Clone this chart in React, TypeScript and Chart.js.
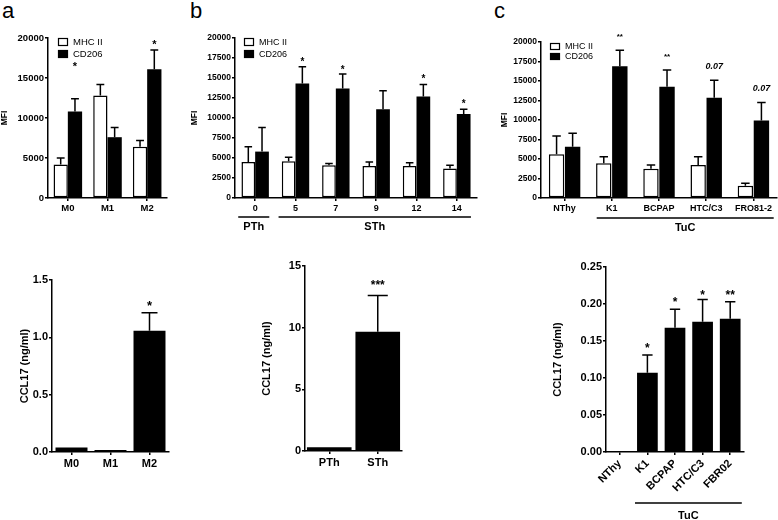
import React, { useEffect, useRef } from "react";
import { Chart, registerables } from "chart.js";
Chart.register(...registerables);

const FONT = "'Liberation Sans', Arial, Helvetica, sans-serif";
const SERIES = ["MHC II", "CD206"];

// ---------- a (top): MFI ----------
const aTopCats = ["M0", "M1", "M2"];
const aTopMHC = [4200, 12800, 6400];
const aTopMHCErr = [5000, 14200, 7200];
const aTopCD = [10800, 7600, 16100];
const aTopCDErr = [12400, 8800, 18500];
const aTopCDMarks = ["*", "", "*"];
const aTopCDMarkAt = [16800, 0, 19500];
const aTopTicks = ["0", "5000", "10000", "15000", "20000"];

// ---------- b (top): MFI ----------
const bTopCats = ["0", "5", "7", "9", "12", "14"];
const bTopMHC = [4500, 4600, 4100, 4000, 4000, 3700];
const bTopMHCErr = [6400, 5100, 4300, 4500, 4400, 4100];
const bTopCD = [5800, 14300, 13700, 11100, 12700, 10500];
const bTopCDErr = [8800, 16400, 15500, 13400, 14200, 11100];
const bTopCDMarks = ["", "*", "*", "", "*", "*"];
const bTopCDMarkAt = [0, 17400, 16400, 0, 15200, 12100];
const bTopTicks = ["0", "2500", "5000", "7500", "10000", "12500", "15000", "17500", "20000"];
const bTopGroups = ["PTh", "STh"];
const bTopGroupFirst = [0, 1];
const bTopGroupLast = [0, 5];

// ---------- c (top): MFI ----------
const cTopCats = ["NThy", "K1", "BCPAP", "HTC/C3", "FRO81-2"];
const cTopMHC = [5600, 4450, 3760, 4230, 1580];
const cTopMHCErr = [7950, 5300, 4230, 5300, 1880];
const cTopCD = [6580, 16900, 14270, 12860, 9920];
const cTopCDErr = [8300, 18950, 16400, 15100, 12250];
const cTopCDMarks = ["", "**", "**", "0.07", "0.07"];
const cTopCDMarkAt = [0, 21000, 18460, 16960, 14190];
const cTopTicks = ["0", "2500", "5000", "7500", "10000", "12500", "15000", "17500", "20000"];
const cTopGroups = ["TuC"];
const cTopGroupFirst = [1];
const cTopGroupLast = [4];

// ---------- a (bottom): CCL17 ----------
const aBotCats = ["M0", "M1", "M2"];
const aBotCCL = [0.04, 0.017, 1.058];
const aBotErr = [null, null, 1.215];
const aBotMarks = ["", "", "*"];
const aBotMarkAt = [0, 0, 1.3];
const aBotTicks = ["0.0", "0.5", "1.0", "1.5"];

// ---------- b (bottom): CCL17 ----------
const bBotCats = ["PTh", "STh"];
const bBotCCL = [0.3, 9.67];
const bBotErr = [null, 12.6];
const bBotMarks = ["", "***"];
const bBotMarkAt = [0, 13.65];
const bBotTicks = ["0", "5", "10", "15"];

// ---------- c (bottom): CCL17 ----------
const cBotCats = ["NThy", "K1", "BCPAP", "HTC/C3", "FBR02"];
const cBotCCL = [0, 0.107, 0.168, 0.176, 0.18];
const cBotErr = [null, 0.131, 0.193, 0.206, 0.203];
const cBotMarks = ["", "*", "*", "*", "**"];
const cBotMarkAt = [0, 0.1446, 0.2068, 0.216, 0.216];
const cBotTicks = ["0.00", "0.05", "0.10", "0.15", "0.20", "0.25"];
const cBotGroups = ["TuC"];
const cBotGroupFirst = [1];
const cBotGroupLast = [4];

type Box = { L: number; T: number; R: number; B: number };
type Pads = { l: number; t: number; r: number; b: number };
type LegendSpec = { dx: number; dy: number; row: number; w: number; h: number; size: number };
type GroupSpec = {
  labels: string[]; first: number[]; last: number[];
  from: number; to: number; lineOff: number; labelOff: number; size: number;
};
interface PanelSpec {
  box: Box; pads: Pads; cats: string[]; datasets: any[];
  yTicks: string[]; yTitle: string; yTitleSize: number; yTitlePad: number;
  yTickSize: number; xTickSize: number; xRotation: number;
  catPct: number; barPct: number; capFrac: number;
  starSize: number; numSize: number;
  legend?: LegendSpec; groups?: GroupSpec;
}

function annotPlugin(s: PanelSpec) {
  return {
    id: "annot",
    afterDatasetsDraw(chart: any) {
      const ctx = chart.ctx;
      const ys = chart.scales.y;
      const xs = chart.scales.x;
      const area = chart.chartArea;
      ctx.save();
      chart.data.datasets.forEach((ds: any, di: number) => {
        const meta = chart.getDatasetMeta(di);
        meta.data.forEach((el: any, i: number) => {
          const err = ds.errors ? ds.errors[i] : null;
          if (err != null) {
            const yE = ys.getPixelForValue(err);
            const cap = el.width * s.capFrac;
            ctx.strokeStyle = "#000";
            ctx.lineWidth = 1.5;
            ctx.beginPath();
            ctx.moveTo(el.x, el.y);
            ctx.lineTo(el.x, yE);
            ctx.moveTo(el.x - cap / 2, yE);
            ctx.lineTo(el.x + cap / 2, yE);
            ctx.stroke();
          }
          const m = ds.marks ? ds.marks[i] : "";
          if (m) {
            const yc = ys.getPixelForValue(ds.markAt[i]);
            const star = m.indexOf("*") >= 0;
            const size = star ? s.starSize : s.numSize;
            ctx.fillStyle = "#000";
            ctx.font = `${star ? "" : "italic "}bold ${size}px ${FONT}`;
            ctx.textAlign = "center";
            ctx.textBaseline = "alphabetic";
            ctx.fillText(m, el.x, yc + (star ? 0.57 : 0.36) * size);
          }
        });
      });
      if (s.legend) {
        const lg = s.legend;
        chart.data.datasets.forEach((ds: any, i: number) => {
          const bx = area.left + lg.dx;
          const by = area.top + lg.dy + i * lg.row;
          ctx.fillStyle = ds.backgroundColor;
          ctx.fillRect(bx, by, lg.w, lg.h);
          ctx.strokeStyle = "#000";
          ctx.lineWidth = 1.2;
          ctx.strokeRect(bx + 0.5, by + 0.5, lg.w - 1, lg.h - 1);
          ctx.fillStyle = "#000";
          ctx.font = `${lg.size}px ${FONT}`;
          ctx.textAlign = "left";
          ctx.textBaseline = "middle";
          ctx.fillText(ds.label, bx + lg.w + 5, by + lg.h / 2 + 0.5);
        });
      }
      if (s.groups) {
        const g = s.groups;
        const spacing = (xs.right - xs.left) / s.cats.length;
        g.labels.forEach((lab, gi) => {
          const x0 = xs.getPixelForValue(g.first[gi]) + g.from * spacing;
          const x1 = xs.getPixelForValue(g.last[gi]) + g.to * spacing;
          const yl = area.bottom + g.lineOff;
          ctx.strokeStyle = "#000";
          ctx.lineWidth = 1.5;
          ctx.beginPath();
          ctx.moveTo(x0, yl);
          ctx.lineTo(x1, yl);
          ctx.stroke();
          ctx.fillStyle = "#000";
          ctx.font = `bold ${g.size}px ${FONT}`;
          ctx.textAlign = "center";
          ctx.textBaseline = "middle";
          ctx.fillText(lab, (x0 + x1) / 2, area.bottom + g.labelOff);
        });
      }
      ctx.restore();
    },
  };
}

function makePanel(s: PanelSpec) {
  const left = s.box.L - s.pads.l;
  const top = s.box.T - s.pads.t;
  const width = s.box.R - s.box.L + s.pads.l + s.pads.r;
  const height = s.box.B - s.box.T + s.pads.t + s.pads.b;
  const tickVals = s.yTicks.map((t) => parseFloat(t));
  const axisCommon = {
    border: { display: true, color: "#000", width: 1.5 },
  };
  const config: any = {
    type: "bar",
    data: {
      labels: s.cats,
      datasets: s.datasets.map((d) => ({
        ...d,
        categoryPercentage: s.catPct,
        barPercentage: s.barPct,
        borderSkipped: false,
      })),
    },
    options: {
      responsive: false,
      maintainAspectRatio: false,
      animation: false,
      events: [],
      layout: { padding: { left: 0, top: s.pads.t, right: s.pads.r, bottom: 0 } },
      plugins: { legend: { display: false }, tooltip: { enabled: false }, title: { display: false } },
      scales: {
        x: {
          type: "category",
          offset: true,
          ...axisCommon,
          grid: { offset: false, drawOnChartArea: false, drawTicks: true, tickLength: 3, color: "#000", lineWidth: 1.5 },
          ticks: {
            color: "#000",
            font: { family: FONT, size: s.xTickSize, weight: "bold" },
            padding: 2,
            autoSkip: false,
            minRotation: s.xRotation,
            maxRotation: s.xRotation,
          },
          afterFit: (sc: any) => { sc.height = s.pads.b; },
        },
        y: {
          type: "linear",
          min: tickVals[0],
          max: tickVals[tickVals.length - 1],
          ...axisCommon,
          grid: { drawOnChartArea: false, drawTicks: true, tickLength: 3, color: "#000", lineWidth: 1.5 },
          ticks: {
            color: "#000",
            font: { family: FONT, size: s.yTickSize, weight: "bold" },
            padding: 1,
            callback: (_v: any, i: number) => s.yTicks[i],
          },
          afterBuildTicks: (sc: any) => { sc.ticks = tickVals.map((v) => ({ value: v })); },
          title: {
            display: true,
            text: s.yTitle,
            color: "#000",
            font: { family: FONT, size: s.yTitleSize, weight: "bold" },
            padding: { top: s.yTitlePad, bottom: 0 },
          },
          afterFit: (sc: any) => { sc.width = s.pads.l; },
        },
      },
    },
    plugins: [annotPlugin(s)],
  };
  return { left, top, width, height, config };
}

function twoSeries(mhc: number[], mhcErr: number[], cd: number[], cdErr: number[], marks: string[], markAt: number[]) {
  return [
    { label: SERIES[0], data: mhc, errors: mhcErr, backgroundColor: "#ffffff", borderColor: "#000000", borderWidth: 1.5 },
    { label: SERIES[1], data: cd, errors: cdErr, marks, markAt, backgroundColor: "#000000", borderColor: "#000000", borderWidth: 0 },
  ];
}

function oneSeries(vals: number[], errs: (number | null)[], marks: string[], markAt: number[]) {
  return [{ label: "CCL17", data: vals, errors: errs, marks, markAt, backgroundColor: "#000000", borderColor: "#000000", borderWidth: 0 }];
}

const panels: PanelSpec[] = [
  {
    box: { L: 48, T: 38, R: 167, B: 198 }, pads: { l: 48, t: 12, r: 8, b: 22 },
    cats: aTopCats, datasets: twoSeries(aTopMHC, aTopMHCErr, aTopCD, aTopCDErr, aTopCDMarks, aTopCDMarkAt),
    yTicks: aTopTicks, yTitle: "MFI", yTitleSize: 8.5, yTitlePad: 0, yTickSize: 9.5, xTickSize: 9.5, xRotation: 0,
    catPct: 0.72, barPct: 1, capFrac: 0.55, starSize: 11, numSize: 9,
    legend: { dx: 10, dy: 0, row: 12, w: 10, h: 8, size: 9.5 },
  },
  {
    box: { L: 235, T: 38, R: 477, B: 198 }, pads: { l: 46, t: 12, r: 1, b: 40 },
    cats: bTopCats, datasets: twoSeries(bTopMHC, bTopMHCErr, bTopCD, bTopCDErr, bTopCDMarks, bTopCDMarkAt),
    yTicks: bTopTicks, yTitle: "MFI", yTitleSize: 8.5, yTitlePad: 1, yTickSize: 8.5, xTickSize: 9, xRotation: 0,
    catPct: 0.68, barPct: 1, capFrac: 0.55, starSize: 10, numSize: 9,
    legend: { dx: 9, dy: 0, row: 12, w: 10, h: 8, size: 9 },
    groups: { labels: bTopGroups, first: bTopGroupFirst, last: bTopGroupLast, from: -0.42, to: 0.35, lineOff: 19, labelOff: 29, size: 11 },
  },
  {
    box: { L: 541, T: 42, R: 777, B: 198 }, pads: { l: 42, t: 20, r: 1, b: 40 },
    cats: cTopCats, datasets: twoSeries(cTopMHC, cTopMHCErr, cTopCD, cTopCDErr, cTopCDMarks, cTopCDMarkAt),
    yTicks: cTopTicks, yTitle: "MFI", yTitleSize: 8.5, yTitlePad: 1, yTickSize: 8.5, xTickSize: 9, xRotation: 0,
    catPct: 0.68, barPct: 0.96, capFrac: 0.55, starSize: 8, numSize: 9,
    legend: { dx: 9, dy: 1, row: 10, w: 10, h: 7, size: 9 },
    groups: { labels: cTopGroups, first: cTopGroupFirst, last: cTopGroupLast, from: -0.32, to: 0.43, lineOff: 20, labelOff: 30, size: 11 },
  },
  {
    box: { L: 52, T: 280, R: 169, B: 452 }, pads: { l: 52, t: 12, r: 8, b: 28 },
    cats: aBotCats, datasets: oneSeries(aBotCCL, aBotErr, aBotMarks, aBotMarkAt),
    yTicks: aBotTicks, yTitle: "CCL17 (ng/ml)", yTitleSize: 11, yTitlePad: 18, yTickSize: 11, xTickSize: 11, xRotation: 0,
    catPct: 0.82, barPct: 1, capFrac: 0.5, starSize: 13, numSize: 11,
  },
  {
    box: { L: 305, T: 266, R: 402, B: 451 }, pads: { l: 55, t: 12, r: 8, b: 28 },
    cats: bBotCats, datasets: oneSeries(bBotCCL, bBotErr, bBotMarks, bBotMarkAt),
    yTicks: bBotTicks, yTitle: "CCL17 (ng/ml)", yTitleSize: 11, yTitlePad: 10, yTickSize: 11, xTickSize: 11, xRotation: 0,
    catPct: 0.92, barPct: 1, capFrac: 0.45, starSize: 12, numSize: 11,
  },
  {
    box: { L: 606, T: 267, R: 744, B: 452 }, pads: { l: 76, t: 12, r: 8, b: 68 },
    cats: cBotCats, datasets: oneSeries(cBotCCL, cBotErr, cBotMarks, cBotMarkAt),
    yTicks: cBotTicks, yTitle: "CCL17 (ng/ml)", yTitleSize: 11, yTitlePad: 21, yTickSize: 11, xTickSize: 11, xRotation: 45,
    catPct: 0.75, barPct: 1, capFrac: 0.5, starSize: 12, numSize: 11,
    groups: { labels: cBotGroups, first: cBotGroupFirst, last: cBotGroupLast, from: -0.45, to: 0.42, lineOff: 51, labelOff: 64, size: 11 },
  },
];

function ChartPanel({ spec }: { spec: PanelSpec }) {
  const ref = useRef<HTMLCanvasElement>(null);
  const p = makePanel(spec);
  useEffect(() => {
    const chart = new Chart(ref.current as HTMLCanvasElement, p.config);
    return () => chart.destroy();
  }, []);
  return (
    <canvas
      ref={ref}
      width={p.width}
      height={p.height}
      style={{ position: "absolute", left: p.left, top: p.top, width: p.width, height: p.height }}
    />
  );
}

const letters = [
  { t: "a", x: 2 },
  { t: "b", x: 190 },
  { t: "c", x: 494 },
];

export default function App() {
  return (
    <div style={{ position: "absolute", left: 0, top: 0, width: 778, height: 520, background: "#fff", overflow: "hidden" }}>
      {letters.map((l) => (
        <div
          key={l.t}
          style={{ position: "absolute", left: l.x, top: 0, fontFamily: FONT, fontSize: 22, lineHeight: "22px", color: "#000" }}
        >
          {l.t}
        </div>
      ))}
      {panels.map((s, i) => (
        <ChartPanel key={i} spec={s} />
      ))}
    </div>
  );
}
